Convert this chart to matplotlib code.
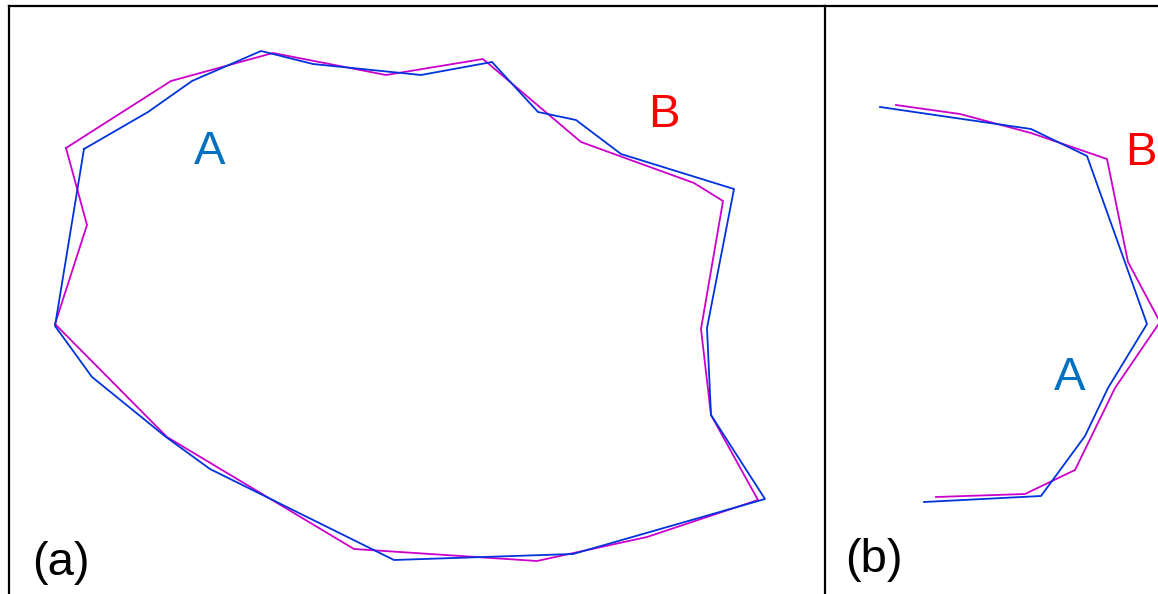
import matplotlib.pyplot as plt

plt.rcParams["font.family"] = ["Liberation Sans", "DejaVu Sans"]

# panel (a): closed outlines
a_blue_x = [84, 148, 192, 261, 313, 421, 492, 538, 576, 621, 734, 707, 711, 765, 573, 394, 210, 166, 92, 55, 84]
a_blue_y = [149, 112, 81, 51, 64, 75, 62, 112, 120, 154, 189, 328, 415, 499, 554, 560, 469, 437, 377, 326, 149]
a_mag_x = [66, 171, 273, 386, 483, 581, 694, 723, 701, 711, 758, 647, 537, 354, 167, 55, 87, 66]
a_mag_y = [148, 81, 53, 75, 59, 142, 183, 201, 329, 415, 500, 537, 561, 549, 437, 324, 225, 148]

# panel (b): open curves
b_blue_x = [880, 1031, 1087, 1147, 1108, 1085, 1041, 924]
b_blue_y = [107, 129, 156, 324, 388, 436, 496, 502]
b_mag_x = [896, 960, 1031, 1107, 1128, 1160, 1115, 1075, 1025, 936]
b_mag_y = [105, 114, 133, 159, 262, 322, 388, 470, 494, 497]

labels_a = [("A", 210, 152, "#0070c0"), ("B", 664, 115, "red"), ("(a)", 61, 563, "black")]
labels_b = [("A", 1070, 378, "#0070c0"), ("B", 1141, 153, "red"), ("(b)", 874, 560, "black")]

W, H = 1158, 594
fig = plt.figure(figsize=(W / 100, H / 100), dpi=100)


def panel(x0, x1, y0, y1):
    ax = fig.add_axes([x0 / W, 1 - y1 / H, (x1 - x0) / W, (y1 - y0) / H])
    ax.set_xlim(x0, x1)
    ax.set_ylim(y1, y0)
    ax.set_xticks([])
    ax.set_yticks([])
    for s in ["bottom", "right"]:
        ax.spines[s].set_visible(False)
    for s in ["top", "left"]:
        ax.spines[s].set_linewidth(1.6)
    return ax


ax1 = panel(9, 825, 6, 620)
ax2 = panel(825, 1600, 6, 620)

for ax, mx, my, bx, by, labels in [
    (ax1, a_mag_x, a_mag_y, a_blue_x, a_blue_y, labels_a),
    (ax2, b_mag_x, b_mag_y, b_blue_x, b_blue_y, labels_b),
]:
    ax.plot(mx, my, color="#cc00cc", lw=1.3)
    ax.plot(bx, by, color="#0033dd", lw=1.3)
    for t, x, y, c in labels:
        ax.text(x, y, t, color=c, fontsize=34, ha="center", va="center")

fig.savefig("out.png", dpi=100)
